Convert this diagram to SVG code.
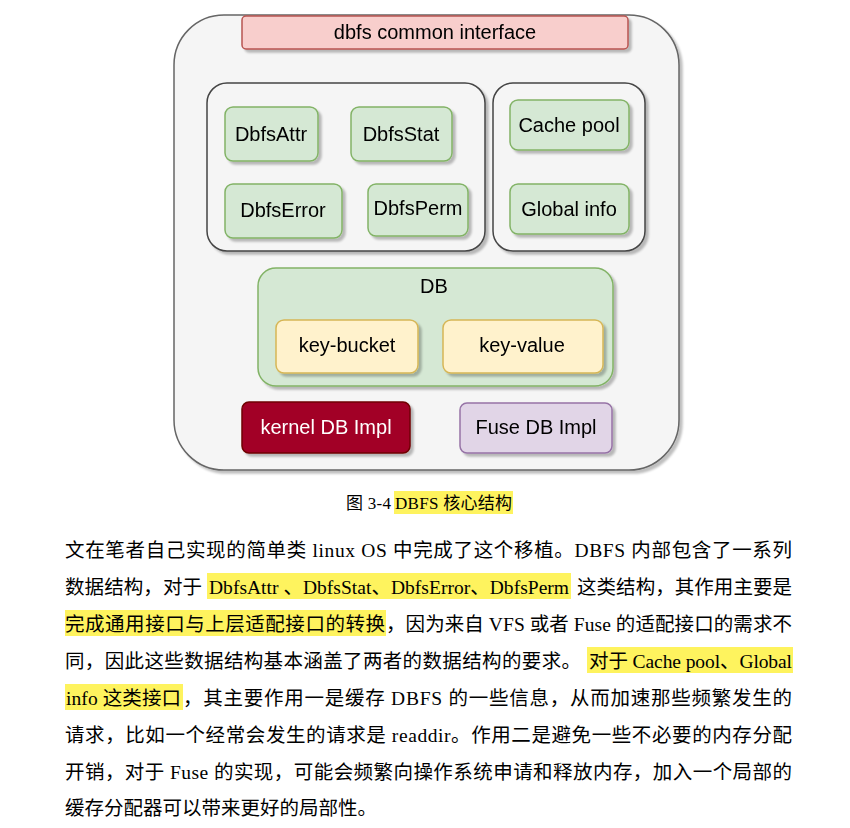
<svg xmlns="http://www.w3.org/2000/svg" width="850" height="828" viewBox="0 0 850 828">
<defs>
<filter id="sh" x="-10%" y="-10%" width="130%" height="130%">
<feGaussianBlur in="SourceAlpha" stdDeviation="0.8"/>
<feOffset dx="3" dy="3" result="o"/>
<feFlood flood-color="#000" flood-opacity="0.25"/>
<feComposite in2="o" operator="in"/>
<feMerge><feMergeNode/><feMergeNode in="SourceGraphic"/></feMerge>
</filter>
<style>
.lbl{font-family:"Liberation Sans",Arial,sans-serif;font-size:20px;text-anchor:middle;fill:#000}
.grn{fill:#d5e8d4;stroke:#82b366;stroke-width:1.5}
.yel{fill:#fff2cc;stroke:#d6b656;stroke-width:1.5}
.grp{fill:#f5f5f5;stroke:#444;stroke-width:1.5}
.txt{font-family:"Liberation Serif","Noto Sans CJK SC",serif;font-size:19.5px;fill:#000}
.hl{fill:#fef35e}
</style>
</defs>
<rect width="850" height="828" fill="#fff"/>
<g id="outer" filter="url(#sh)">
<rect x="174" y="15" width="505" height="455" rx="50" fill="#f5f5f5" stroke="#666" stroke-width="1.5"/>
</g>
<g id="header" filter="url(#sh)">
<rect x="242" y="16" width="386" height="33" rx="4" fill="#f8cecc" stroke="#b85450" stroke-width="1.5"/>
<text class="lbl" x="435" y="39">dbfs common interface</text>
</g>
<g id="leftGroup" filter="url(#sh)">
<rect class="grp" x="207" y="83" width="278" height="168" rx="20"/>
</g>
<g id="rightGroup" filter="url(#sh)">
<rect class="grp" x="493" y="83" width="152" height="168" rx="20"/>
</g>
<g id="dbfsAttr" filter="url(#sh)">
<rect class="grn" x="225" y="107" width="93" height="54" rx="8"/>
<text class="lbl" x="271" y="141">DbfsAttr</text>
</g>
<g id="dbfsStat" filter="url(#sh)">
<rect class="grn" x="351" y="107" width="101" height="54" rx="8"/>
<text class="lbl" x="401" y="141">DbfsStat</text>
</g>
<g id="dbfsError" filter="url(#sh)">
<rect class="grn" x="225" y="184" width="117" height="54" rx="8"/>
<text class="lbl" x="283" y="217">DbfsError</text>
</g>
<g id="dbfsPerm" filter="url(#sh)">
<rect class="grn" x="368" y="184" width="100" height="52" rx="8"/>
<text class="lbl" x="418" y="215">DbfsPerm</text>
</g>
<g id="cachePool" filter="url(#sh)">
<rect class="grn" x="510" y="100" width="119" height="50" rx="8"/>
<text class="lbl" x="569" y="132">Cache pool</text>
</g>
<g id="globalInfo" filter="url(#sh)">
<rect class="grn" x="510" y="184" width="119" height="50" rx="8"/>
<text class="lbl" x="569" y="216">Global info</text>
</g>
<g id="db" filter="url(#sh)">
<rect class="grn" x="258" y="268" width="355" height="118" rx="18"/>
<text class="lbl" x="434" y="293">DB</text>
</g>
<g id="keyBucket" filter="url(#sh)">
<rect class="yel" x="276" y="320" width="142" height="53" rx="8"/>
<text class="lbl" x="347" y="352">key-bucket</text>
</g>
<g id="keyValue" filter="url(#sh)">
<rect class="yel" x="443" y="320" width="160" height="53" rx="8"/>
<text class="lbl" x="522" y="352">key-value</text>
</g>
<g id="kernelDB" filter="url(#sh)">
<rect x="242" y="402" width="168" height="51" rx="7" fill="#a20025" stroke="#6f0000" stroke-width="1.5"/>
<text class="lbl" x="326" y="434" style="fill:#fff">kernel DB Impl</text>
</g>
<g id="fuseDB" filter="url(#sh)">
<rect x="460" y="403" width="152" height="50" rx="7" fill="#e1d5e7" stroke="#9673a6" stroke-width="1.5"/>
<text class="lbl" x="536" y="434">Fuse DB Impl</text>
</g>
<g id="connectors"/>
<g id="caption">
<rect class="hl" x="394" y="491" width="119" height="23"/>
<text x="346" y="509" style="font-family:'Liberation Serif','Noto Sans CJK SC',serif;font-size:17px" textLength="45" lengthAdjust="spacing">图 3-4</text>
<text x="395" y="509" style="font-family:'Liberation Serif','Noto Sans CJK SC',serif;font-size:17px" textLength="117" lengthAdjust="spacing">DBFS 核心结构</text>
</g>
<g id="paragraph">
<rect class="hl" x="207" y="573" width="364" height="26"/>
<rect class="hl" x="65" y="610" width="321" height="26"/>
<rect class="hl" x="587" y="647" width="206" height="26"/>
<rect class="hl" x="65" y="684" width="118" height="26"/>
<text class="txt" x="65" y="557" textLength="727" lengthAdjust="spacing">文在笔者自己实现的简单类 linux OS 中完成了这个移植。DBFS 内部包含了一系列</text>
<text class="txt" x="65" y="594" textLength="137" lengthAdjust="spacing">数据结构，对于</text>
<text class="txt" x="209" y="594" textLength="360" lengthAdjust="spacing">DbfsAttr 、DbfsStat、DbfsError、DbfsPerm</text>
<text class="txt" x="577" y="594" textLength="215" lengthAdjust="spacing">这类结构，其作用主要是</text>
<text class="txt" x="65" y="631" textLength="320" lengthAdjust="spacing">完成通用接口与上层适配接口的转换</text>
<text class="txt" x="386" y="631" textLength="406" lengthAdjust="spacing">，因为来自 VFS 或者 Fuse 的适配接口的需求不</text>
<text class="txt" x="65" y="668" textLength="516" lengthAdjust="spacing">同，因此这些数据结构基本涵盖了两者的数据结构的要求。</text>
<text class="txt" x="589" y="668" textLength="203" lengthAdjust="spacing">对于 Cache pool、Global</text>
<text class="txt" x="66" y="705" textLength="115" lengthAdjust="spacing">info 这类接口</text>
<text class="txt" x="183" y="705" textLength="609" lengthAdjust="spacing">，其主要作用一是缓存 DBFS 的一些信息，从而加速那些频繁发生的</text>
<text class="txt" x="65" y="742" textLength="727" lengthAdjust="spacing">请求，比如一个经常会发生的请求是 readdir。作用二是避免一些不必要的内存分配</text>
<text class="txt" x="65" y="779" textLength="727" lengthAdjust="spacing">开销，对于 Fuse 的实现，可能会频繁向操作系统申请和释放内存，加入一个局部的</text>
<text class="txt" x="65" y="815">缓存分配器可以带来更好的局部性。</text>
</g>
</svg>
